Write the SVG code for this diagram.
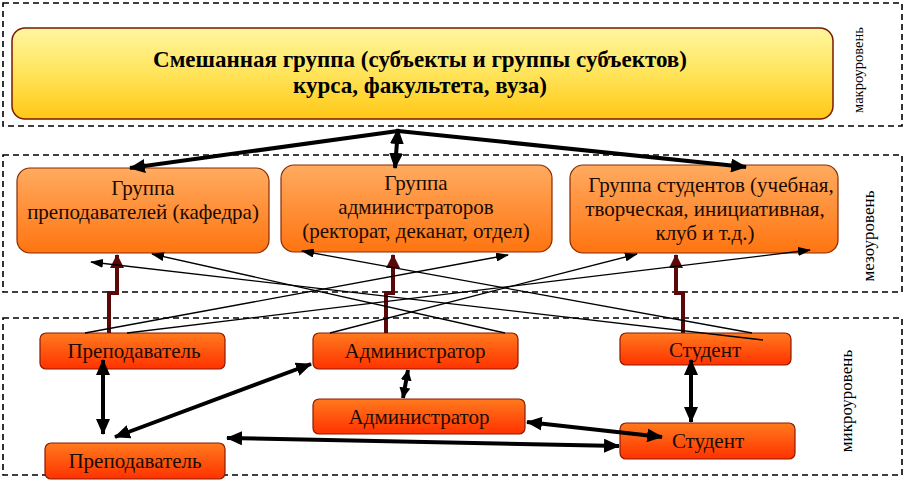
<svg xmlns="http://www.w3.org/2000/svg" width="905" height="482" viewBox="0 0 905 482">
<defs>
  <linearGradient id="gY" x1="0" y1="0" x2="0" y2="1">
    <stop offset="0" stop-color="#fff6a0"/>
    <stop offset="0.5" stop-color="#ffe45a"/>
    <stop offset="1" stop-color="#ffc814"/>
  </linearGradient>
  <linearGradient id="gO" x1="0" y1="0" x2="0" y2="1">
    <stop offset="0" stop-color="#ffab60"/>
    <stop offset="1" stop-color="#ff7410"/>
  </linearGradient>
  <linearGradient id="gR" x1="0" y1="0" x2="0" y2="1">
    <stop offset="0" stop-color="#ff7a1e"/>
    <stop offset="1" stop-color="#ff3200"/>
  </linearGradient>
  <marker id="aBig" viewBox="0 0 16 14" refX="15" refY="7" markerWidth="16" markerHeight="14" markerUnits="userSpaceOnUse" orient="auto-start-reverse">
    <path d="M0,0 L16,7 L0,14 z" fill="#000"/>
  </marker>
  <marker id="aSmall" viewBox="0 0 11 11" refX="10.5" refY="5.5" markerWidth="11" markerHeight="11" markerUnits="userSpaceOnUse" orient="auto-start-reverse">
    <path d="M0,0 L11,5.5 L0,11 z" fill="#000"/>
  </marker>
  <marker id="aThin" viewBox="0 0 13 9" refX="12" refY="4.5" markerWidth="13" markerHeight="9" markerUnits="userSpaceOnUse" orient="auto">
    <path d="M0,0 L13,4.5 L0,9 z" fill="#000"/>
  </marker>
  <marker id="aRed" viewBox="0 0 14 14" refX="13" refY="7" markerWidth="14" markerHeight="14" markerUnits="userSpaceOnUse" orient="auto">
    <path d="M0,0 L14,7 L0,14 z" fill="#5a0808"/>
  </marker>
</defs>
<style>
  text{font-family:"Liberation Serif","Times New Roman",serif}
  .frame{fill:none;stroke:#000;stroke-width:1.6;stroke-dasharray:6 4}
  .macro{fill:url(#gY);stroke:#7a1a00;stroke-width:1.5}
  .meso{fill:url(#gO);stroke:#8a2a00;stroke-width:1.2}
  .micro{fill:url(#gR);stroke:#8a1a00;stroke-width:1.2}
  .t{fill:#1a0a00;text-anchor:middle}
  .tb{font-weight:bold;font-size:23px;fill:#000;text-anchor:middle}
  .m{font-size:21px}
  .s{font-size:21px}
  .lvl{fill:#000;text-anchor:middle}
  .thick{stroke:#000;stroke-width:4;fill:none}
  .thin{stroke:#000;stroke-width:1.3;fill:none}
  .red{stroke:#5a0808;stroke-width:4;fill:none}
</style>

<g id="frames">
  <rect class="frame" x="3" y="3" width="899" height="123"/>
  <rect class="frame" x="3" y="155" width="899" height="137"/>
  <rect class="frame" x="3" y="318" width="899" height="157"/>
</g>

<g id="labels">
  <text class="lvl" font-size="14.5" transform="translate(863,70) rotate(-90)">макроуровень</text>
  <text class="lvl" font-size="17" transform="translate(874,236) rotate(-90)">мезоуровень</text>
  <text class="lvl" font-size="17" transform="translate(852,401) rotate(-90)">микроуровень</text>
</g>

<g id="node-mixed">
  <rect class="macro" x="12" y="28" width="821" height="91" rx="13"/>
  <text class="tb" x="420" y="67">Смешанная группа (субъекты и группы субъектов)</text>
  <text class="tb" x="420" y="93">курса, факультета, вуза)</text>
</g>

<g id="node-group-teachers">
  <rect class="meso" x="17" y="168" width="252" height="85" rx="13"/>
  <text class="t m" x="143" y="195">Группа</text>
  <text class="t m" x="143" y="219">преподавателей (кафедра)</text>
</g>
<g id="node-group-admins">
  <rect class="meso" x="281" y="165" width="271" height="87" rx="13"/>
  <text class="t m" x="416" y="190">Группа</text>
  <text class="t m" x="416" y="214">администраторов</text>
  <text class="t m" x="416" y="238">(ректорат, деканат, отдел)</text>
</g>
<g id="node-group-students">
  <rect class="meso" x="570" y="165" width="268" height="88" rx="13"/>
  <text class="t m" x="711" y="192">Группа студентов (учебная,</text>
  <text class="t m" x="705" y="216">творческая, инициативная,</text>
  <text class="t m" x="705" y="240">клуб и т.д.)</text>
</g>

<g id="node-teacher1">
  <rect class="micro" x="40" y="333" width="185" height="36" rx="6"/>
  <text class="t s" x="134" y="358">Преподаватель</text>
</g>
<g id="node-admin1">
  <rect class="micro" x="313" y="333" width="205" height="36" rx="6"/>
  <text class="t s" x="415" y="358">Администратор</text>
</g>
<g id="node-student1">
  <rect class="micro" x="620" y="333" width="171" height="32" rx="6"/>
  <text class="t s" x="705" y="357">Студент</text>
</g>
<g id="node-admin2">
  <rect class="micro" x="313" y="399" width="212" height="35" rx="6"/>
  <text class="t s" x="419" y="424">Администратор</text>
</g>
<g id="node-teacher2">
  <rect class="micro" x="45" y="443" width="180" height="36" rx="6"/>
  <text class="t s" x="135" y="468">Преподаватель</text>
</g>
<g id="node-student2">
  <rect class="micro" x="620" y="423" width="175" height="36" rx="6"/>
  <text class="t s" x="708" y="448">Студент</text>
</g>

<g id="connectors">
  <line class="thick" x1="398" y1="129" x2="395" y2="168" marker-start="url(#aBig)" marker-end="url(#aBig)"/>
  <line class="thick" x1="398" y1="131" x2="130" y2="168" marker-end="url(#aBig)"/>
  <line class="thick" x1="398" y1="131" x2="746" y2="167" marker-end="url(#aBig)"/>

  <polyline class="red" points="109,333 109,293 117,293 117,255" marker-end="url(#aRed)"/>
  <polyline class="red" points="386,333 386,293 393,293 393,255" marker-end="url(#aRed)"/>
  <polyline class="red" points="683,333 683,293 676,293 676,255" marker-end="url(#aRed)"/>

  <line class="thin" x1="85" y1="333" x2="508" y2="255" marker-end="url(#aThin)"/>
  <line class="thin" x1="127" y1="333" x2="810" y2="250" marker-end="url(#aThin)"/>
  <line class="thin" x1="330" y1="333" x2="637" y2="254" marker-end="url(#aThin)"/>
  <line class="thin" x1="505" y1="333" x2="152" y2="254" marker-end="url(#aThin)"/>
  <line class="thin" x1="752" y1="333" x2="302" y2="251" marker-end="url(#aThin)"/>
  <line class="thin" x1="763" y1="340" x2="91" y2="262" marker-end="url(#aThin)"/>

  <line class="thick" x1="103" y1="360" x2="103" y2="434" marker-start="url(#aBig)" marker-end="url(#aBig)"/>
  <line class="thick" x1="115" y1="437" x2="311" y2="364" marker-start="url(#aBig)" marker-end="url(#aBig)"/>
  <line class="thick" x1="408" y1="370" x2="403" y2="398" stroke-width="3.5" marker-start="url(#aSmall)" marker-end="url(#aSmall)"/>
  <line class="thick" x1="691" y1="360" x2="691" y2="422" marker-start="url(#aBig)" marker-end="url(#aBig)"/>
  <line class="thick" x1="527" y1="422" x2="662" y2="437" marker-start="url(#aBig)" marker-end="url(#aBig)"/>
  <line class="thick" x1="227" y1="438" x2="619" y2="446" marker-start="url(#aBig)" marker-end="url(#aBig)"/>
</g>
</svg>
